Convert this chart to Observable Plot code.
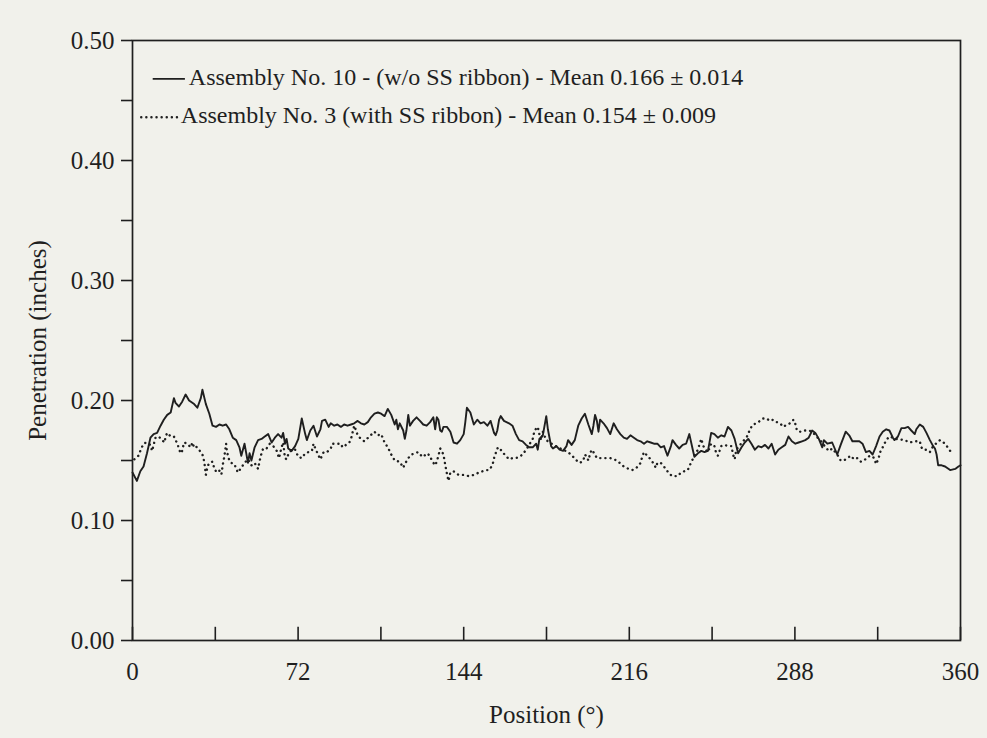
<!DOCTYPE html>
<html>
<head>
<meta charset="utf-8">
<script src="https://cdn.jsdelivr.net/npm/d3@7"></script>
<script src="https://cdn.jsdelivr.net/npm/@observablehq/plot@0.6"></script>
<style>
  html, body { margin: 0; padding: 0; background: #f1f1eb; }
  #chart { width: 987px; height: 738px; }
</style>
</head>
<body>
<div id="chart"></div>
<script>
// ---- Data (position in degrees, penetration in inches) ----
const solidPos = [
  0, 1.9, 3.4, 4.8, 6.3, 7.8, 9.2, 10.7, 12.2, 13.6,
  15.1, 16.6, 18.0, 18.7, 20.2, 21.6, 23.1, 24.6, 26.8, 28.2,
  29.7, 30.4, 31.9, 33.4, 34.8, 36.3, 37.8, 39.2, 40.7, 42.1,
  43.6, 45.1, 46.5, 47.3, 48.7, 50.2, 50.9, 51.7, 53.1, 54.6,
  56.1, 57.5, 59.0, 60.5, 61.9, 63.3, 64.8, 65.5, 66.3, 67.0,
  67.7, 69.2, 70.7, 72.1, 73.6, 75.1, 75.8, 77.3, 78.7, 80.2,
  81.7, 82.4, 83.8, 85.3,
  86.2, 87.7, 89.1, 90.6, 92.0, 93.5, 95.0, 96.4, 97.9, 99.3,
  100.8, 102.3, 103.7, 105.2, 106.7, 108.1, 109.6, 111.0, 112.5, 114.0,
  114.7, 115.4, 116.2, 117.7, 118.4, 119.1, 119.9, 120.6, 122.0, 123.5,
  125.0, 126.4, 127.9, 129.4, 130.8, 131.6, 132.3, 133.0, 133.8, 134.5,
  135.2, 136.7, 138.2, 139.6, 141.1, 142.5, 144.0, 144.7, 145.4, 146.9,
  148.4, 149.9, 151.3, 152.8, 154.3, 155.7, 157.2, 157.9, 158.6, 159.4,
  160.1, 161.5, 163.7, 165.2, 166.7,
  168.1, 169.6, 171.1, 172.5, 174.0, 175.5, 176.2, 176.9, 178.4, 179.9,
  180.6, 181.3, 182.0, 182.8, 184.3, 185.7, 187.2, 188.7, 189.4, 190.9,
  192.3, 193.8, 195.3, 196.7, 198.2, 199.7, 200.4, 201.1, 201.9, 202.6,
  203.3, 204.8, 206.3, 207.7, 209.2, 210.6, 212.1, 213.6, 215.0, 216.5,
  218.0, 219.4, 220.9, 222.4, 223.8, 225.3, 226.7, 228.2, 229.7, 231.1,
  232.6, 234.1, 234.8, 236.3, 237.7, 239.2, 240.7, 242.1, 243.6, 244.3,
  245.8, 247.3, 248.7, 250.2,
  251.6, 253.0, 254.5, 256.0, 257.4, 258.9, 260.4, 261.8, 263.3, 264.8,
  266.2, 267.7, 269.1, 270.6, 272.1, 273.5, 275.0, 276.5, 277.9, 279.4,
  280.8, 282.3, 283.8, 285.2, 286.7, 288.2, 289.6, 291.1, 292.5, 294.0,
  295.5, 296.9, 298.4, 299.9, 300.6, 302.1, 304.2, 306.4, 307.9, 310.1,
  311.6, 313.0, 314.5, 316.0, 317.4, 318.9, 320.4, 321.8, 323.3, 324.8,
  326.2, 327.7, 329.1, 330.6, 331.3, 332.8, 334.3, 335.7, 337.2, 338.6,
  340.1, 340.8, 342.3, 343.8, 345.2, 346.7, 348.1, 348.9, 349.6, 350.3,
  351.8, 353.3, 355.5, 357.7, 359.1, 360
];
const solidVal = [
  0.140, 0.133, 0.141, 0.145, 0.156, 0.169, 0.172, 0.173, 0.179, 0.184,
  0.188, 0.190, 0.202, 0.198, 0.195, 0.199, 0.205, 0.200, 0.197, 0.194,
  0.202, 0.209, 0.197, 0.189, 0.179, 0.178, 0.180, 0.179, 0.180, 0.176,
  0.169, 0.167, 0.161, 0.154, 0.164, 0.148, 0.156, 0.150, 0.161, 0.167,
  0.168, 0.170, 0.172, 0.165, 0.169, 0.172, 0.169, 0.173, 0.164, 0.168,
  0.160, 0.158, 0.162, 0.168, 0.185, 0.172, 0.167, 0.175, 0.179, 0.170,
  0.176, 0.183, 0.184, 0.178,
  0.181, 0.179, 0.180, 0.178, 0.180, 0.179, 0.180, 0.181, 0.183, 0.181,
  0.180, 0.182, 0.186, 0.189, 0.190, 0.189, 0.187, 0.193, 0.188, 0.180,
  0.184, 0.176, 0.181, 0.175, 0.168, 0.175, 0.188, 0.179, 0.183, 0.186,
  0.183, 0.180, 0.179, 0.182, 0.186, 0.176, 0.186, 0.184, 0.175, 0.174,
  0.178, 0.178, 0.174, 0.165, 0.164, 0.167, 0.172, 0.182, 0.194, 0.190,
  0.180, 0.184, 0.181, 0.182, 0.179, 0.183, 0.173, 0.171, 0.175, 0.184,
  0.187, 0.183, 0.181, 0.179, 0.172,
  0.167, 0.166, 0.163, 0.161, 0.161, 0.164, 0.159, 0.168, 0.171, 0.187,
  0.176, 0.169, 0.162, 0.160, 0.162, 0.159, 0.158, 0.162, 0.167, 0.163,
  0.167, 0.179, 0.185, 0.189, 0.180, 0.172, 0.179, 0.188, 0.183, 0.174,
  0.184, 0.181, 0.177, 0.172, 0.181, 0.176, 0.172, 0.169, 0.168, 0.171,
  0.169, 0.167, 0.166, 0.164, 0.166, 0.165, 0.164, 0.164, 0.161, 0.162,
  0.154, 0.162, 0.167, 0.163, 0.160, 0.163, 0.164, 0.172, 0.159, 0.153,
  0.156, 0.158, 0.157, 0.158,
  0.173, 0.172, 0.169, 0.171, 0.170, 0.178, 0.175, 0.168, 0.156, 0.161,
  0.165, 0.168, 0.164, 0.159, 0.162, 0.161, 0.163, 0.160, 0.164, 0.155,
  0.159, 0.161, 0.163, 0.170, 0.166, 0.164, 0.165, 0.166, 0.167, 0.169,
  0.175, 0.173, 0.168, 0.161, 0.167, 0.164, 0.165, 0.155, 0.163, 0.174,
  0.171, 0.166, 0.166, 0.166, 0.164, 0.157, 0.158, 0.155, 0.162, 0.170,
  0.174, 0.176, 0.175, 0.169, 0.167, 0.170, 0.177, 0.177, 0.178, 0.175,
  0.172, 0.176, 0.180, 0.178, 0.173, 0.167, 0.162, 0.160, 0.155, 0.146,
  0.146, 0.145, 0.142, 0.143, 0.145, 0.146
];

const dottedPos = [
  0.8, 2.6, 3.6, 4.8, 6.0, 7.8, 8.5, 10.0, 11.4, 12.9,
  13.9, 14.4, 15.1, 16.6, 18.0, 19.5, 20.2, 20.9, 21.6, 22.4,
  23.8, 25.3, 26.0, 26.8, 27.5, 28.9, 30.4, 31.2, 31.9, 32.6,
  33.4, 34.8, 35.6, 36.7, 38.2, 38.7, 39.2, 39.9, 40.7, 41.1,
  42.1, 42.9, 44.3, 45.8, 47.3, 48.7, 50.2, 51.7, 53.1, 54.6,
  55.3, 56.1, 56.8, 58.3, 59.7, 61.2, 62.7, 63.7, 64.8, 65.5,
  66.3, 67.0, 67.7, 69.2, 70.7, 72.1, 73.6, 75.1, 76.5, 78.0,
  78.7, 79.5, 80.9, 81.7, 83.1, 84.6,
  86.2, 86.9, 89.1, 90.6, 91.3, 92.8, 94.3, 95.0, 96.4, 97.2,
  97.9, 99.3, 100.8, 103.0, 105.2, 106.7, 108.1, 109.6, 111.0, 112.5,
  114.0, 116.2, 117.7, 118.4, 119.9, 121.3, 122.8, 124.2, 125.0, 126.4,
  127.9, 129.4, 130.1, 131.6, 132.3, 133.0, 133.8, 135.2, 136.0, 136.7,
  137.4, 138.2, 139.6, 141.8, 144.0, 146.2, 148.4, 150.6, 152.1, 153.6,
  155.0, 156.5, 157.2, 157.9, 158.6, 159.4, 160.8, 162.3, 163.7, 165.2,
  166.7, 168.1, 169.6, 171.5,
  174.0, 174.8, 176.2, 176.9, 177.7, 178.4, 179.9, 183.0, 186.0, 189.4,
  191.6, 193.1, 194.5, 196.0, 196.7, 197.5, 198.2, 199.0, 199.7, 200.4,
  201.9, 203.3, 205.5, 207.7, 210.6, 213.6, 215.7, 217.2, 218.7, 220.1,
  220.9, 221.6, 222.4, 223.8, 225.3, 226.7, 227.5, 228.2, 229.7, 231.9,
  233.3, 234.8, 237.0, 238.5, 239.9, 241.4, 242.8, 244.3, 245.8, 247.3,
  248.0, 248.7, 250.2,
  251.6, 253.0, 253.8, 254.5, 256.0, 257.4, 258.9, 260.4, 261.1, 261.8,
  262.5, 263.3, 265.0, 266.9, 267.7, 268.4, 269.8, 271.3, 272.8, 274.2,
  275.7, 277.1, 278.6, 280.1, 281.5, 283.0, 284.5, 285.9, 287.4, 288.1,
  288.9, 290.3, 291.8, 294.0, 295.5, 296.9, 298.4, 299.9, 301.3, 302.8,
  304.2, 306.4, 307.9, 309.3, 310.8, 312.3, 313.7, 315.2, 316.7, 318.1,
  319.6, 321.0, 322.5, 323.3, 324.0, 324.7, 325.4,
  326.2, 327.7, 329.1, 332.0, 335.7, 337.9, 340.1, 342.3, 343.0, 343.8,
  345.2, 346.7, 348.1, 351.1, 353.3, 355.5
];
const dottedVal = [
  0.151, 0.154, 0.159, 0.164, 0.165, 0.163, 0.158, 0.169, 0.170, 0.167,
  0.165, 0.170, 0.173, 0.170, 0.170, 0.164, 0.160, 0.156, 0.158, 0.165,
  0.164, 0.161, 0.165, 0.161, 0.162, 0.159, 0.155, 0.149, 0.138, 0.145,
  0.148, 0.149, 0.143, 0.140, 0.142, 0.139, 0.146, 0.153, 0.164, 0.157,
  0.150, 0.148, 0.147, 0.140, 0.144, 0.148, 0.151, 0.146, 0.148, 0.143,
  0.150, 0.156, 0.160, 0.160, 0.164, 0.162, 0.158, 0.152, 0.161, 0.165,
  0.152, 0.151, 0.155, 0.159, 0.159, 0.153, 0.152, 0.156, 0.157, 0.158,
  0.164, 0.160, 0.154, 0.151, 0.157, 0.157,
  0.160, 0.164, 0.164, 0.164, 0.161, 0.163, 0.165, 0.168, 0.179, 0.175,
  0.171, 0.168, 0.166, 0.170, 0.174, 0.171, 0.172, 0.165, 0.161, 0.155,
  0.150, 0.149, 0.144, 0.147, 0.152, 0.155, 0.156, 0.157, 0.155, 0.153,
  0.156, 0.154, 0.150, 0.146, 0.149, 0.154, 0.160, 0.155, 0.146, 0.139,
  0.133, 0.140, 0.141, 0.138, 0.138, 0.137, 0.138, 0.140, 0.141, 0.142,
  0.142, 0.146, 0.152, 0.156, 0.160, 0.161, 0.157, 0.154, 0.151, 0.152,
  0.152, 0.153, 0.155, 0.160,
  0.168, 0.175, 0.178, 0.172, 0.167, 0.174, 0.167, 0.163, 0.160, 0.157,
  0.153, 0.150, 0.148, 0.150, 0.155, 0.153, 0.150, 0.156, 0.159, 0.157,
  0.152, 0.152, 0.152, 0.152, 0.150, 0.145, 0.143, 0.142, 0.143, 0.146,
  0.148, 0.153, 0.157, 0.154, 0.151, 0.147, 0.144, 0.148, 0.148, 0.143,
  0.139, 0.137, 0.137, 0.140, 0.141, 0.142, 0.148, 0.154, 0.159, 0.168,
  0.163, 0.160, 0.157,
  0.164, 0.162, 0.156, 0.154, 0.162, 0.163, 0.162, 0.162, 0.155, 0.151,
  0.159, 0.161, 0.165, 0.169, 0.172, 0.176, 0.180, 0.181, 0.183, 0.185,
  0.185, 0.183, 0.184, 0.182, 0.181, 0.178, 0.180, 0.181, 0.184, 0.181,
  0.175, 0.174, 0.175, 0.175, 0.174, 0.171, 0.168, 0.165, 0.161, 0.158,
  0.160, 0.155, 0.150, 0.150, 0.152, 0.154, 0.151, 0.152, 0.149, 0.150,
  0.153, 0.154, 0.152, 0.147, 0.150, 0.154, 0.159,
  0.161, 0.167, 0.170, 0.168, 0.167, 0.165, 0.166, 0.166, 0.161, 0.159,
  0.159, 0.157, 0.162, 0.167, 0.164, 0.158
];

const xTicksMajor = [0, 72, 144, 216, 288, 360];
const xTicksMinor = [36, 108, 180, 252, 324];
const yTicksMajor = [0, 0.1, 0.2, 0.3, 0.4, 0.5];
const yTicksMinor = [0.05, 0.15, 0.25, 0.35, 0.45];

const legendLabels = [
  "Assembly No. 10 - (w/o SS ribbon) - Mean 0.166 \u00b1 0.014",
  "Assembly No. 3 (with SS ribbon) - Mean 0.154 \u00b1 0.009"
];
const legendY = [0.468, 0.436];
const legendLineX1 = [9, 4];
const legendLineX2 = [23, 20];
const legendTextX = [24.5, 21];

// ---- Build tables ----
const solid = solidPos.map((p, i) => ({pos: p, val: solidVal[i]}));
const dotted = dottedPos.map((p, i) => ({pos: p, val: dottedVal[i]}));
const legend = legendLabels.map((t, i) => ({
  label: t, y: legendY[i], x1: legendLineX1[i], x2: legendLineX2[i], tx: legendTextX[i], kind: i
}));

const ink = "#1f1f1f";
const dotDash = "0.1,5";

const chart = Plot.plot({
  width: 987,
  height: 738,
  marginLeft: 132,
  marginRight: 27,
  marginTop: 40,
  marginBottom: 98,
  style: {
    fontFamily: "'Liberation Serif', 'DejaVu Serif', serif",
    fontSize: "24px",
    background: "#f1f1eb",
    color: ink
  },
  x: {domain: [0, 360]},
  y: {domain: [0, 0.5]},
  marks: [
    Plot.frame({stroke: ink, strokeWidth: 1.7}),
    Plot.axisY({
      ticks: yTicksMajor,
      tickFormat: d3.format(".2f"),
      tickSize: 11,
      tickPadding: 7,
      strokeWidth: 1.6,
      label: "Penetration (inches)",
      labelAnchor: "center",
      labelArrow: "none",
      labelOffset: 104,
      fontSize: 25
    }),
    Plot.axisY({ticks: yTicksMinor, tickFormat: () => "", tickSize: 11, strokeWidth: 1.6, label: null}),
    Plot.axisX({
      ticks: xTicksMajor,
      tickSize: 0,
      tickPadding: 22,
      label: "Position (\u00b0)",
      labelAnchor: "center",
      labelArrow: "none",
      labelOffset: 82,
      fontSize: 25
    }),
    Plot.ruleX(xTicksMajor.concat(xTicksMinor), {y1: 0, y2: 0.011, stroke: ink, strokeWidth: 1.6}),
    Plot.line(solid, {x: "pos", y: "val", stroke: ink, strokeWidth: 1.9, strokeLinejoin: "round"}),
    Plot.line(dotted, {x: "pos", y: "val", stroke: ink, strokeWidth: 2.4,
      strokeDasharray: dotDash, strokeLinecap: "round"}),
    Plot.ruleY(legend.filter(d => d.kind === 0), {y: "y", x1: "x1", x2: "x2", stroke: ink, strokeWidth: 1.7}),
    Plot.ruleY(legend.filter(d => d.kind === 1), {y: "y", x1: "x1", x2: "x2", stroke: ink, strokeWidth: 2.4,
      strokeDasharray: dotDash, strokeLinecap: "round"}),
    Plot.text(legend, {x: "tx", y: "y", text: "label", textAnchor: "start", fontSize: 24, fill: ink, dy: -2})
  ]
});

document.getElementById("chart").appendChild(chart);
</script>
</body>
</html>
